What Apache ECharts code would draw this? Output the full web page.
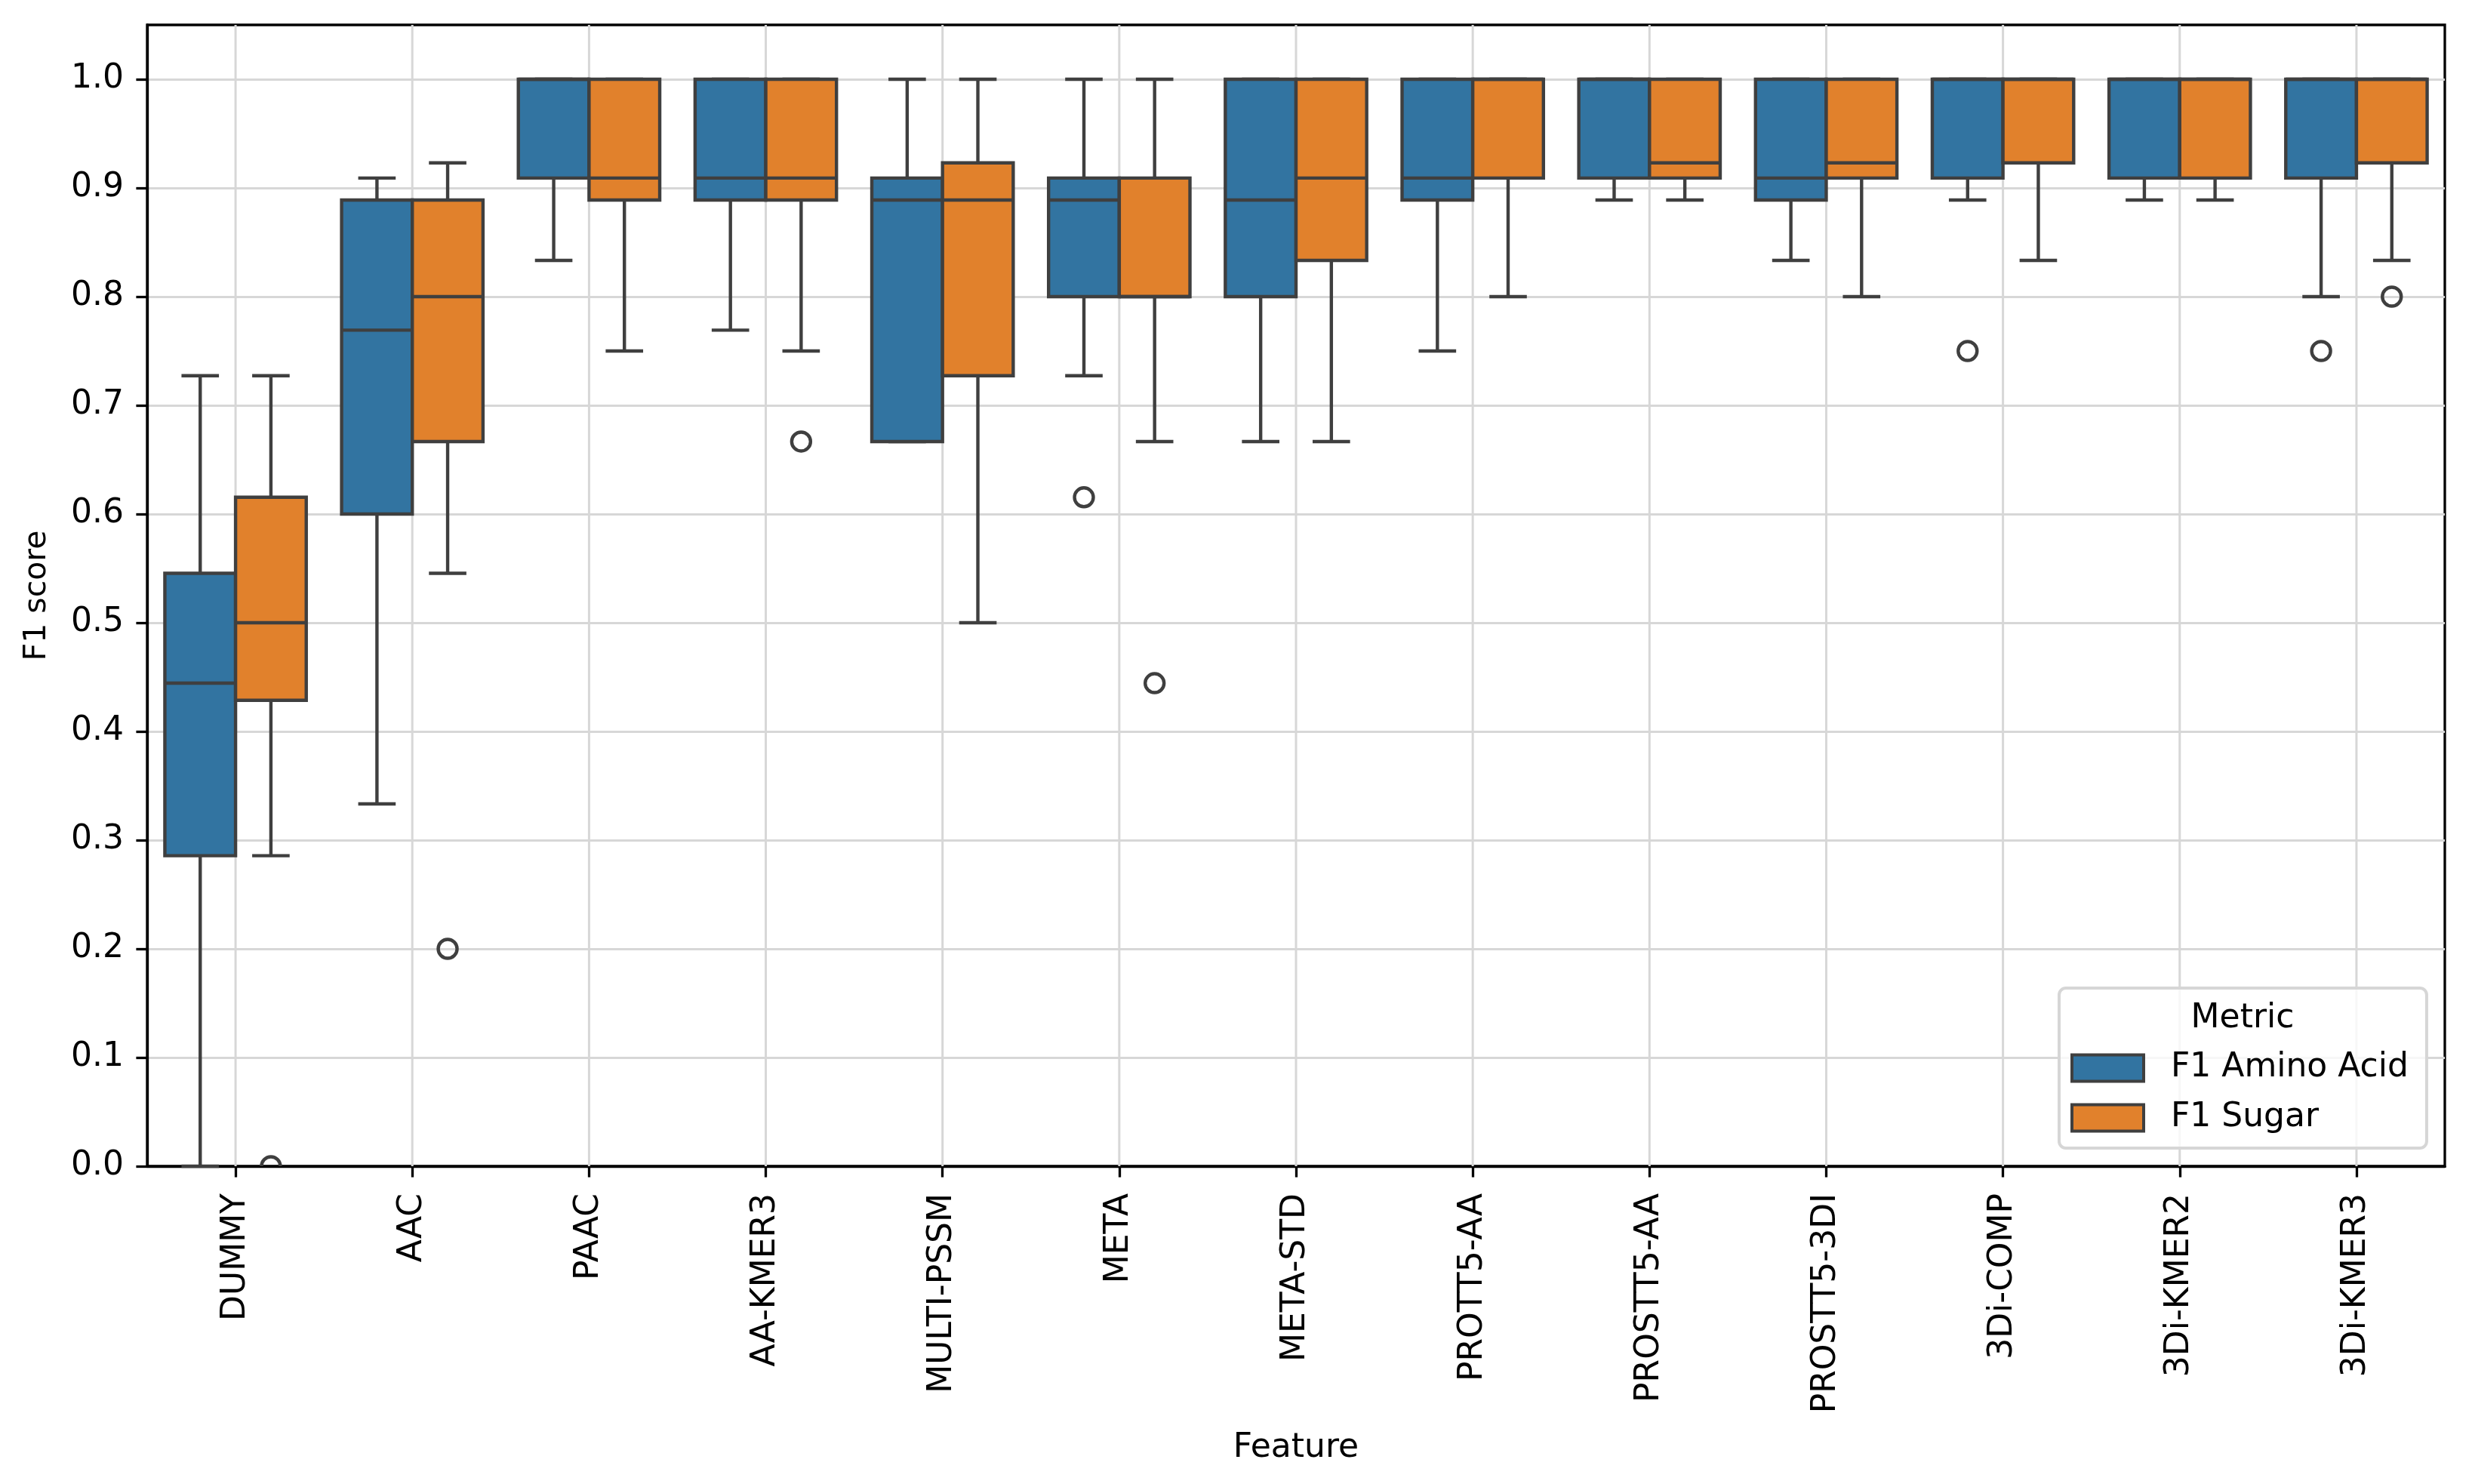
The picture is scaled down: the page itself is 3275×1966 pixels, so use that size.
<!DOCTYPE html>
<html>
<head>
<meta charset="utf-8">
<script src="https://cdn.jsdelivr.net/npm/echarts/dist/echarts.min.js"></script>
<style>
html,body{margin:0;padding:0;background:#ffffff;}
#chart{width:3275px;height:1966px;}
</style>
</head>
<body>
<div id="chart"></div>
<script>
// ---- data ----
const categories = ['DUMMY','AAC','PAAC','AA-KMER3','MULTI-PSSM','META','META-STD',
  'PROTT5-AA','PROSTT5-AA','PROSTT5-3DI','3Di-COMP','3Di-KMER2','3Di-KMER3'];
const seriesNames = ['F1 Amino Acid','F1 Sugar'];
// [min whisker, Q1, median, Q3, max whisker]
const aminoBoxes = [
  [0.0,    0.2857, 0.4444, 0.5455, 0.7273],
  [0.3333, 0.6,    0.7692, 0.8889, 0.9091],
  [0.8333, 0.9091, 1.0,    1.0,    1.0],
  [0.7692, 0.8889, 0.9091, 1.0,    1.0],
  [0.6667, 0.6667, 0.8889, 0.9091, 1.0],
  [0.7273, 0.8,    0.8889, 0.9091, 1.0],
  [0.6667, 0.8,    0.8889, 1.0,    1.0],
  [0.75,   0.8889, 0.9091, 1.0,    1.0],
  [0.8889, 0.9091, 1.0,    1.0,    1.0],
  [0.8333, 0.8889, 0.9091, 1.0,    1.0],
  [0.8889, 0.9091, 1.0,    1.0,    1.0],
  [0.8889, 0.9091, 1.0,    1.0,    1.0],
  [0.8,    0.9091, 1.0,    1.0,    1.0]
];
const sugarBoxes = [
  [0.2857, 0.4286, 0.5,    0.6154, 0.7273],
  [0.5455, 0.6667, 0.8,    0.8889, 0.9231],
  [0.75,   0.8889, 0.9091, 1.0,    1.0],
  [0.75,   0.8889, 0.9091, 1.0,    1.0],
  [0.5,    0.7273, 0.8889, 0.9231, 1.0],
  [0.6667, 0.8,    0.8,    0.9091, 1.0],
  [0.6667, 0.8333, 0.9091, 1.0,    1.0],
  [0.8,    0.9091, 1.0,    1.0,    1.0],
  [0.8889, 0.9091, 0.9231, 1.0,    1.0],
  [0.8,    0.9091, 0.9231, 1.0,    1.0],
  [0.8333, 0.9231, 1.0,    1.0,    1.0],
  [0.8889, 0.9091, 1.0,    1.0,    1.0],
  [0.8333, 0.9231, 1.0,    1.0,    1.0]
];
// [category index, value]
const aminoOutliers = [[5, 0.6154], [10, 0.75], [12, 0.75]];
const sugarOutliers = [[0, 0.0], [1, 0.2], [3, 0.6667], [5, 0.4444], [12, 0.8]];
const yTicks = [0, 0.1, 0.2, 0.3, 0.4, 0.5, 0.6, 0.7, 0.8, 0.9, 1.0];

// ---- styling ----
const FONT = 'DejaVu Sans';
const BLUE = '#3274a1';
const ORANGE = '#e1812c';
const LINE = '#3f3f3f';
const LW = 4.4;
const SPINE = 3.3;

function boxRenderer(side, color) {
  return function (params, api) {
    const i = api.value(0);
    const band = api.size([1, 0])[0];
    const w = band * 0.4;
    const cx = api.coord([i, 0])[0] + side * w / 2;
    const yv = function (k) { return api.coord([i, api.value(k)])[1]; };
    const yMin = yv(1), yQ1 = yv(2), yMed = yv(3), yQ3 = yv(4), yMax = yv(5);
    const capW = w * 0.53;
    const ls = { stroke: LINE, lineWidth: LW, lineCap: 'butt' };
    return {
      type: 'group',
      children: [
        { type: 'line', shape: { x1: cx, y1: yQ1, x2: cx, y2: yMin }, style: ls },
        { type: 'line', shape: { x1: cx, y1: yQ3, x2: cx, y2: yMax }, style: ls },
        { type: 'line', shape: { x1: cx - capW / 2, y1: yMin, x2: cx + capW / 2, y2: yMin }, style: ls },
        { type: 'line', shape: { x1: cx - capW / 2, y1: yMax, x2: cx + capW / 2, y2: yMax }, style: ls },
        { type: 'rect', shape: { x: cx - w / 2, y: yQ3, width: w, height: yQ1 - yQ3 },
          style: { fill: color, stroke: LINE, lineWidth: LW, lineJoin: 'miter' } },
        { type: 'line', shape: { x1: cx - w / 2, y1: yMed, x2: cx + w / 2, y2: yMed }, style: ls }
      ]
    };
  };
}

function outlierRenderer(side) {
  return function (params, api) {
    const i = api.value(0);
    const band = api.size([1, 0])[0];
    const w = band * 0.4;
    const p = api.coord([i, api.value(1)]);
    return {
      type: 'circle',
      shape: { cx: p[0] + side * w / 2, cy: p[1], r: 12.5 },
      style: { fill: 'none', stroke: LINE, lineWidth: LW }
    };
  };
}

function gridLineRenderer(params, api) {
  const i = api.value(0);
  const x = api.coord([i, 0])[0];
  const cs = params.coordSys;
  return {
    type: 'line',
    shape: { x1: x, y1: cs.y, x2: x, y2: cs.y + cs.height },
    style: { stroke: '#d7d7d7', lineWidth: 3 }
  };
}

const chart = echarts.init(document.getElementById('chart'), null, { renderer: 'canvas' });

const option = {
  animation: false,
  backgroundColor: '#ffffff',
  textStyle: { fontFamily: FONT },
  grid: {
    left: 195, right: 36, top: 33, bottom: 421,
    show: true, borderColor: '#000000', borderWidth: SPINE,
    containLabel: false, outerBoundsMode: 'none'
  },
  legend: {
    orient: 'vertical',
    left: 2728, top: 1309,
    padding: [84, 24, 18, 15],
    itemWidth: 95, itemHeight: 35, itemGap: 22,
    icon: 'rect',
    selectedMode: false,
    borderColor: '#d6d6d6', borderWidth: 4, borderRadius: 9,
    backgroundColor: 'rgba(255,255,255,0.8)',
    textStyle: { fontSize: 44, color: '#000000', fontFamily: FONT, lineHeight: 44, padding: [0, 0, 0, 31] },
    data: [
      { name: seriesNames[0], itemStyle: { color: BLUE, borderColor: LINE, borderWidth: 4 } },
      { name: seriesNames[1], itemStyle: { color: ORANGE, borderColor: LINE, borderWidth: 4 } }
    ]
  },
  graphic: [{
    type: 'text', z: 100,
    style: { text: 'Metric', x: 2971, y: 1350, align: 'center', verticalAlign: 'middle',
      font: '44px "DejaVu Sans"', fill: '#000000' }
  }],
  xAxis: {
    type: 'category',
    data: categories,
    boundaryGap: true,
    axisLine: { show: true, lineStyle: { color: '#000000', width: SPINE } },
    axisTick: { show: true, alignWithLabel: true, length: 14.6, lineStyle: { color: '#000000', width: SPINE } },
    axisLabel: { rotate: 90, margin: 36, fontSize: 44, color: '#000000', fontFamily: FONT, interval: 0 },
    splitLine: { show: false },
    name: 'Feature', nameLocation: 'middle', nameGap: 352,
    nameTextStyle: { fontSize: 44, color: '#000000', fontFamily: FONT }
  },
  yAxis: {
    type: 'value',
    min: 0, max: 1.05, interval: 0.1,
    axisLine: { show: true, lineStyle: { color: '#000000', width: SPINE } },
    axisTick: { show: true, length: 14.6, customValues: yTicks, lineStyle: { color: '#000000', width: SPINE } },
    axisLabel: { customValues: yTicks, formatter: function (v) { return v.toFixed(1); },
      margin: 31, fontSize: 44, color: '#000000', fontFamily: FONT },
    splitLine: { show: true, lineStyle: { color: '#d7d7d7', width: 3 } },
    name: 'F1 score', nameLocation: 'middle', nameGap: 125,
    nameTextStyle: { fontSize: 41, color: '#000000', fontFamily: FONT }
  },
  series: [
    {
      type: 'custom', name: 'xgrid', z: 1, silent: true,
      renderItem: gridLineRenderer,
      encode: { x: 0, y: 1 },
      data: categories.map(function (c, i) { return [i, 0]; })
    },
    {
      type: 'custom', name: seriesNames[0], z: 3,
      itemStyle: { color: BLUE },
      renderItem: boxRenderer(-1, BLUE),
      encode: { x: 0, y: [1, 2, 3, 4, 5] },
      data: aminoBoxes.map(function (b, i) { return [i].concat(b); })
    },
    {
      type: 'custom', name: seriesNames[1], z: 3,
      itemStyle: { color: ORANGE },
      renderItem: boxRenderer(1, ORANGE),
      encode: { x: 0, y: [1, 2, 3, 4, 5] },
      data: sugarBoxes.map(function (b, i) { return [i].concat(b); })
    },
    {
      type: 'custom', name: seriesNames[0] + ' outliers', z: 4, clip: true,
      renderItem: outlierRenderer(-1),
      encode: { x: 0, y: 1 },
      data: aminoOutliers
    },
    {
      type: 'custom', name: seriesNames[1] + ' outliers', z: 4, clip: true,
      renderItem: outlierRenderer(1),
      encode: { x: 0, y: 1 },
      data: sugarOutliers
    }
  ]
};

chart.setOption(option);
</script>
</body>
</html>
